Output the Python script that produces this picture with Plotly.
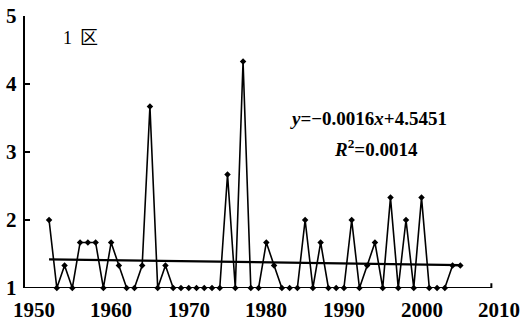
import plotly.graph_objects as go

# Annual series for district 1
years = list(range(1952, 2006))
values = [2, 1, 1.33, 1, 1.67, 1.67, 1.67, 1, 1.67, 1.33,
          1, 1, 1.33, 3.67, 1, 1.33, 1, 1, 1, 1,
          1, 1, 1, 2.67, 1, 4.33, 1, 1, 1.67, 1.33,
          1, 1, 1, 2, 1, 1.67, 1, 1, 1, 2,
          1, 1.33, 1.67, 1, 2.33, 1, 2, 1, 2.33, 1,
          1, 1, 1.33, 1.33]

# Linear trend as reported on the chart
slope = -0.0016
intercept = 4.5451
r_squared = 0.0014
trend_years = [years[0], years[-1]]
trend_values = [slope * x + intercept for x in trend_years]

x_ticks = [1950, 1960, 1970, 1980, 1990, 2000, 2010]
y_ticks = [1, 2, 3, 4, 5]
x_range = [1948.9, 2010.5]
x_axis_end = 2009
y_range = [1, 5]

serif = "Liberation Serif, Times New Roman, serif"
label_font = dict(family=serif, size=21, color="black")

fig = go.Figure()
fig.add_trace(go.Scatter(
    x=years, y=values, mode="lines+markers",
    line=dict(color="black", width=1.6),
    marker=dict(color="black", size=5, symbol="diamond"),
    cliponaxis=False, showlegend=False,
))
fig.add_trace(go.Scatter(
    x=trend_years, y=trend_values, mode="lines",
    line=dict(color="black", width=2.2),
    cliponaxis=False, showlegend=False,
))

# Horizontal axis line with a small end tick
fig.add_shape(type="line", xref="x", yref="y",
              x0=x_range[0], x1=x_axis_end, y0=y_range[0], y1=y_range[0],
              line=dict(color="black", width=2.2))
fig.add_shape(type="line", xref="x", yref="y",
              x0=x_axis_end, x1=x_axis_end, y0=y_range[0], y1=y_range[0] + 0.07,
              line=dict(color="black", width=2))

# Bold tick labels
for t in x_ticks:
    fig.add_annotation(x=t, y=0, xref="x", yref="paper", yshift=-22,
                       xanchor="center", yanchor="middle", text=f"<b>{t}</b>",
                       showarrow=False, font=label_font)
for t in y_ticks:
    fig.add_annotation(x=0, y=t, xref="paper", yref="y", xshift=-6,
                       xanchor="right", yanchor="middle", text=f"<b>{t}</b>",
                       showarrow=False, font=label_font)

fig.add_annotation(x=1953.6, y=4.68, xref="x", yref="y", xanchor="left",
                   text="1 \u2009区", showarrow=False,
                   font=dict(family="Liberation Serif, Noto Sans CJK SC", size=18, color="black"))
fig.add_annotation(x=1982.8, y=3.5, xref="x", yref="y", xanchor="left",
                   text=f"<b><i>y</i>=\u2212{abs(slope)}<i>x</i>+{intercept}</b>", showarrow=False,
                   font=dict(family=serif, size=19, color="black"))
fig.add_annotation(x=1988.4, y=3.06, xref="x", yref="y", xanchor="left",
                   text=f"<b><i>R</i><sup>2</sup>={r_squared}</b>", showarrow=False,
                   font=dict(family=serif, size=19, color="black"))

fig.update_layout(
    width=521, height=324,
    margin=dict(l=25, r=18, t=16, b=36),
    paper_bgcolor="white", plot_bgcolor="white",
    xaxis=dict(range=x_range, tickvals=x_ticks, showticklabels=False,
               showgrid=False, zeroline=False,
               showline=False, ticks="", automargin=False),
    yaxis=dict(range=y_range, tickvals=y_ticks, showticklabels=False,
               showgrid=False, zeroline=False,
               showline=True, linecolor="black", linewidth=2.2,
               ticks="inside", ticklen=5, tickwidth=2, tickcolor="black",
               automargin=False),
)

fig.write_html("out.html")
